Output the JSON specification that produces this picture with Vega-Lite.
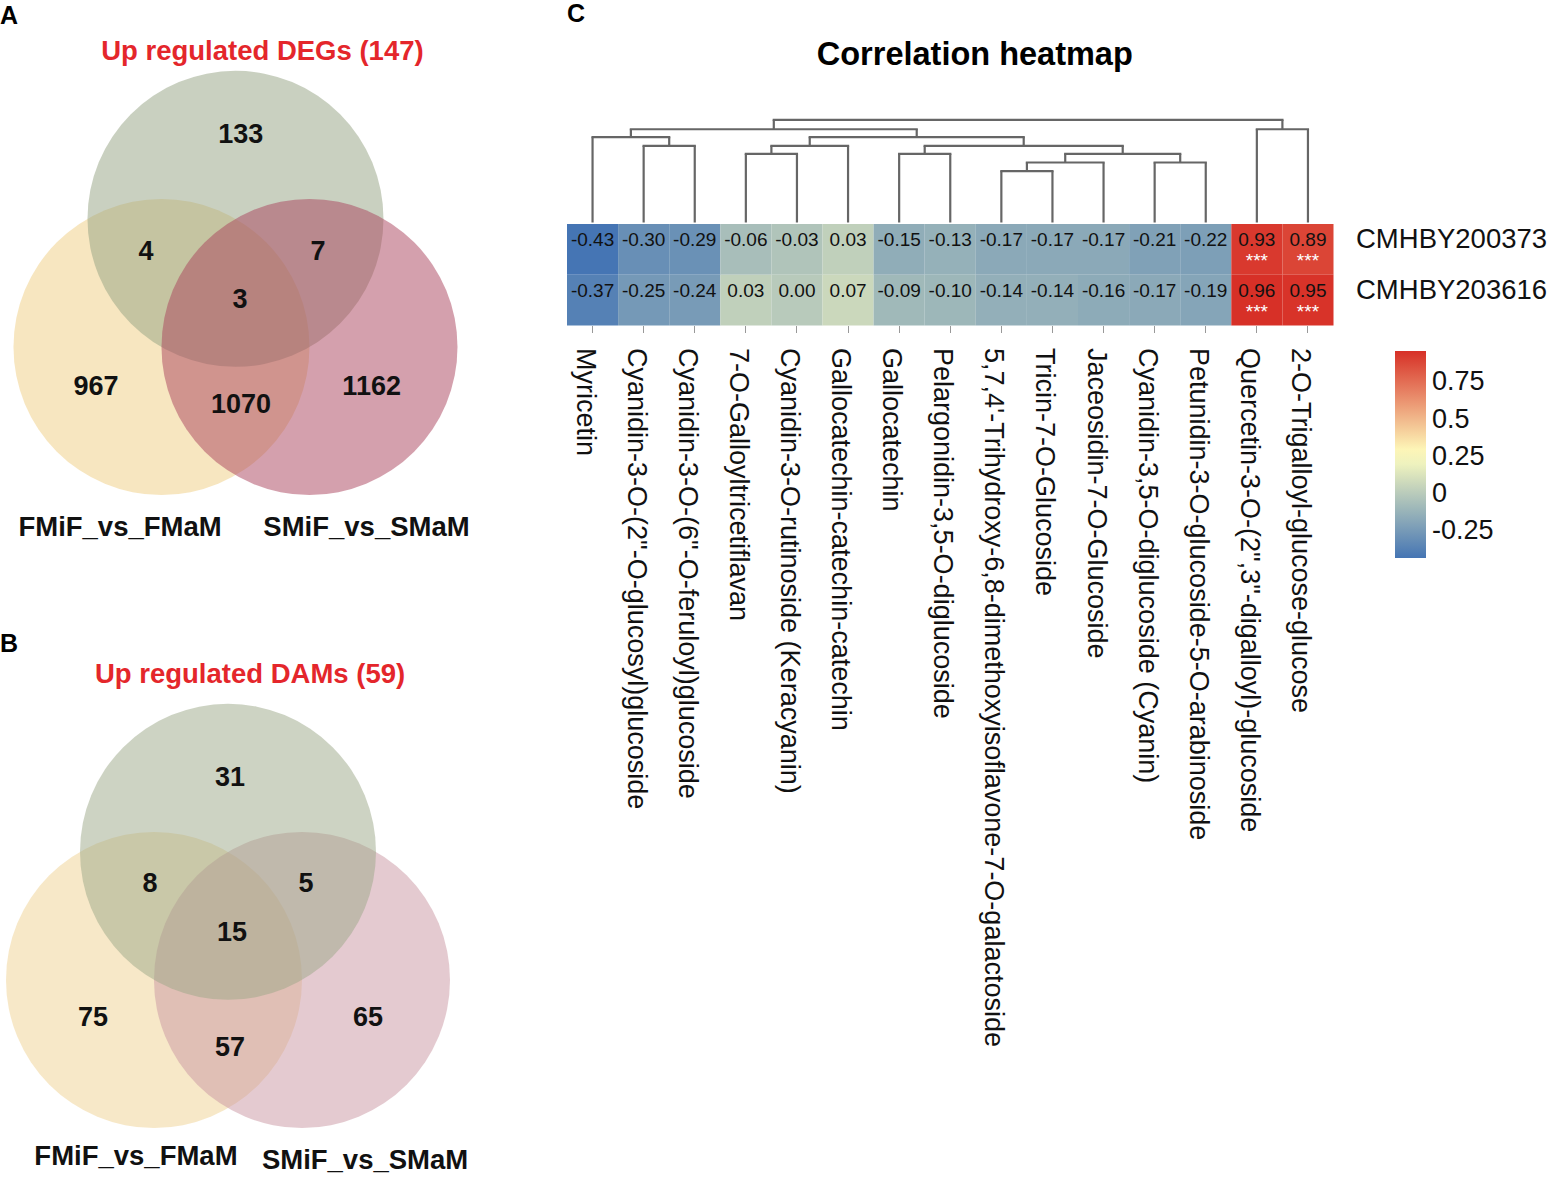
{
  "$schema": "https://vega.github.io/schema/vega-lite/v6.json",
  "padding": 0,
  "background": "white",
  "config": {
    "view": {"stroke": null},
    "font": "Liberation Sans",
    "locale": {"number": {"decimal": ".", "thousands": ",", "grouping": [3], "currency": ["$", ""], "minus": "-"}}
  },
  "spacing": 87,
  "resolve": {"scale": {"x": "independent", "y": "independent", "color": "independent"}, "legend": {"color": "independent"}},
  "hconcat": [
    {
      "spacing": 0,
      "resolve": {"scale": {"x": "independent", "y": "independent", "color": "independent"}},
      "vconcat": [
        {
          "width": 480,
          "height": 620,
          "layer": [
            {
              "data": {"values": [
                {"set": "FMiF_vs_FMaM", "cx": -0.5, "cy": 0, "lx": -0.78, "ly": -1.226},
                {"set": "Up regulated DEGs (147)", "cx": 0, "cy": 0.866, "lx": 0.182, "ly": 1.993},
                {"set": "SMiF_vs_SMaM", "cx": 0.5, "cy": 0, "lx": 0.885, "ly": -1.226}
              ]},
              "layer": [
                {
                  "mark": {"type": "point", "shape": "circle", "filled": true, "opacity": 0.5, "size": 87616, "strokeWidth": 0},
                  "encoding": {
                    "x": {"field": "cx", "type": "quantitative", "scale": {"domain": [-1.591, 1.652], "nice": false, "zero": false}, "axis": null},
                    "y": {"field": "cy", "type": "quantitative", "scale": {"domain": [-1.845, 2.345], "nice": false, "zero": false}, "axis": null},
                    "color": {"field": "set", "type": "nominal", "scale": {"domain": ["Up regulated DEGs (147)", "FMiF_vs_FMaM", "SMiF_vs_SMaM"], "range": ["#93a181", "#efcd81", "#a9415b"]}, "legend": null}
                  }
                },
                {
                  "mark": {"type": "text", "fontSize": 27.5, "fontWeight": "bold", "baseline": "middle"},
                  "encoding": {
                    "x": {"field": "lx", "type": "quantitative"},
                    "y": {"field": "ly", "type": "quantitative"},
                    "text": {"field": "set"},
                    "color": {"condition": {"test": "datum.cy > 0.5", "value": "#e4262b"}, "value": "#111111"}
                  }
                }
              ]
            },
            {
              "data": {"values": [
                {"region": "DEGs only", "count": 133, "x": 0.035, "y": 1.432},
                {"region": "DEGs & FMiF", "count": 4, "x": -0.605, "y": 0.642},
                {"region": "DEGs & SMiF", "count": 7, "x": 0.557, "y": 0.642},
                {"region": "all three", "count": 3, "x": 0.03, "y": 0.318},
                {"region": "FMiF only", "count": 967, "x": -0.943, "y": -0.268},
                {"region": "FMiF & SMiF", "count": 1070, "x": 0.037, "y": -0.392},
                {"region": "SMiF only", "count": 1162, "x": 0.92, "y": -0.27}
              ]},
              "mark": {"type": "text", "fontSize": 27, "fontWeight": "bold", "baseline": "middle", "color": "#111111"},
              "encoding": {
                "x": {"field": "x", "type": "quantitative"},
                "y": {"field": "y", "type": "quantitative"},
                "text": {"field": "count"}
              }
            },
            {
              "data": {"values": [{"panel": "A"}]},
              "mark": {"type": "text", "fontSize": 25, "fontWeight": "bold", "align": "left", "baseline": "middle", "color": "#000000"},
              "encoding": {
                "x": {"datum": -1.591, "type": "quantitative"},
                "y": {"datum": 2.24, "type": "quantitative"},
                "text": {"field": "panel"}
              }
            }
          ]
        },
        {
          "width": 480,
          "height": 561,
          "layer": [
            {
              "data": {"values": [
                {"set": "FMiF_vs_FMaM", "cx": -0.5, "cy": 0, "lx": -0.622, "ly": -1.196},
                {"set": "SMiF_vs_SMaM", "cx": 0.5, "cy": 0, "lx": 0.926, "ly": -1.223},
                {"set": "Up regulated DAMs (59)", "cx": 0, "cy": 0.866, "lx": 0.149, "ly": 2.061}
              ]},
              "layer": [
                {
                  "mark": {"type": "point", "shape": "circle", "filled": true, "opacity": 0.5, "size": 87616, "strokeWidth": 0},
                  "encoding": {
                    "x": {"field": "cx", "type": "quantitative", "scale": {"domain": [-1.5405, 1.7027], "nice": false, "zero": false}, "axis": null},
                    "y": {"field": "cy", "type": "quantitative", "scale": {"domain": [-1.358, 2.432], "nice": false, "zero": false}, "axis": null},
                    "color": {"field": "set", "type": "nominal", "scale": {"domain": ["Up regulated DAMs (59)", "FMiF_vs_FMaM", "SMiF_vs_SMaM"], "range": ["#9ba787", "#efd191", "#c995a1"]}, "legend": null}
                  }
                },
                {
                  "mark": {"type": "text", "fontSize": 27.5, "fontWeight": "bold", "baseline": "middle"},
                  "encoding": {
                    "x": {"field": "lx", "type": "quantitative"},
                    "y": {"field": "ly", "type": "quantitative"},
                    "text": {"field": "set"},
                    "color": {"condition": {"test": "datum.cy > 0.5", "value": "#e4262b"}, "value": "#111111"}
                  }
                }
              ]
            },
            {
              "data": {"values": [
                {"region": "DAMs only", "count": 31, "x": 0.014, "y": 1.365},
                {"region": "DAMs & FMiF", "count": 8, "x": -0.527, "y": 0.649},
                {"region": "DAMs & SMiF", "count": 5, "x": 0.527, "y": 0.649},
                {"region": "all three", "count": 15, "x": 0.027, "y": 0.318},
                {"region": "FMiF only", "count": 75, "x": -0.912, "y": -0.257},
                {"region": "FMiF & SMiF", "count": 57, "x": 0.014, "y": -0.459},
                {"region": "SMiF only", "count": 65, "x": 0.946, "y": -0.257}
              ]},
              "mark": {"type": "text", "fontSize": 27, "fontWeight": "bold", "baseline": "middle", "color": "#111111"},
              "encoding": {
                "x": {"field": "x", "type": "quantitative"},
                "y": {"field": "y", "type": "quantitative"},
                "text": {"field": "count"}
              }
            },
            {
              "data": {"values": [{"panel": "B"}]},
              "mark": {"type": "text", "fontSize": 25, "fontWeight": "bold", "align": "left", "baseline": "middle", "color": "#000000"},
              "encoding": {
                "x": {"datum": -1.5405, "type": "quantitative"},
                "y": {"datum": 2.27, "type": "quantitative"},
                "text": {"field": "panel"}
              }
            }
          ]
        }
      ]
    },
    {
      "spacing": 0,
      "resolve": {"scale": {"x": "independent", "y": "independent"}},
      "vconcat": [
        {
          "width": 766.5,
          "height": 222.5,
          "layer": [
            {
              "data": {"values": [
                {"merge": 1, "lx": 1, "lh": 0, "rx": 2, "rh": 0, "h": 0.747},
                {"merge": 2, "lx": 0, "lh": 0, "rx": 1.5, "rh": 0.747, "h": 0.831},
                {"merge": 3, "lx": 3, "lh": 0, "rx": 4, "rh": 0, "h": 0.669},
                {"merge": 4, "lx": 3.5, "lh": 0.669, "rx": 5, "rh": 0, "h": 0.747},
                {"merge": 5, "lx": 6, "lh": 0, "rx": 7, "rh": 0, "h": 0.669},
                {"merge": 6, "lx": 8, "lh": 0, "rx": 9, "rh": 0, "h": 0.5},
                {"merge": 7, "lx": 8.5, "lh": 0.5, "rx": 10, "rh": 0, "h": 0.584},
                {"merge": 8, "lx": 11, "lh": 0, "rx": 12, "rh": 0, "h": 0.584},
                {"merge": 9, "lx": 9.25, "lh": 0.584, "rx": 11.5, "rh": 0.584, "h": 0.669},
                {"merge": 10, "lx": 6.5, "lh": 0.669, "rx": 10.375, "rh": 0.669, "h": 0.747},
                {"merge": 11, "lx": 4.25, "lh": 0.747, "rx": 8.4375, "rh": 0.747, "h": 0.831},
                {"merge": 12, "lx": 0.75, "lh": 0.831, "rx": 6.34375, "rh": 0.831, "h": 0.908},
                {"merge": 13, "lx": 13, "lh": 0, "rx": 14, "rh": 0, "h": 0.908},
                {"merge": 14, "lx": 3.546875, "lh": 0.908, "rx": 13.5, "rh": 0.908, "h": 1.0}
              ]},
              "layer": [
                {
                  "mark": {"type": "rule", "color": "#666666", "strokeWidth": 2.2, "strokeCap": "square"},
                  "encoding": {
                    "x": {"field": "lx", "type": "quantitative", "scale": {"domain": [-0.5, 14.5], "nice": false, "zero": false}, "axis": null},
                    "x2": {"field": "rx"},
                    "y": {"field": "h", "type": "quantitative", "scale": {"domain": [0, 2.1665], "nice": false, "zero": false}, "axis": null}
                  }
                },
                {
                  "mark": {"type": "rule", "color": "#666666", "strokeWidth": 2.2, "strokeCap": "butt"},
                  "encoding": {
                    "x": {"field": "lx", "type": "quantitative"},
                    "y": {"field": "lh", "type": "quantitative"},
                    "y2": {"field": "h"}
                  }
                },
                {
                  "mark": {"type": "rule", "color": "#666666", "strokeWidth": 2.2, "strokeCap": "butt"},
                  "encoding": {
                    "x": {"field": "rx", "type": "quantitative"},
                    "y": {"field": "rh", "type": "quantitative"},
                    "y2": {"field": "h"}
                  }
                }
              ]
            },
            {
              "data": {"values": [{"label": "Correlation heatmap"}]},
              "mark": {"type": "text", "fontSize": 32.5, "fontWeight": "bold", "baseline": "middle", "color": "#000000"},
              "encoding": {
                "x": {"datum": 7.48, "type": "quantitative"},
                "y": {"datum": 1.631, "type": "quantitative"},
                "text": {"field": "label"}
              }
            },
            {
              "data": {"values": [{"label": "C"}]},
              "mark": {"type": "text", "fontSize": 25, "fontWeight": "bold", "align": "left", "baseline": "middle", "color": "#000000"},
              "encoding": {
                "x": {"datum": -0.5, "type": "quantitative"},
                "y": {"datum": 2.03, "type": "quantitative"},
                "text": {"field": "label"}
              }
            }
          ]
        },
        {
          "width": 766.5,
          "height": 101.5,
          "data": {"values": [
            {"gene": "CMHBY200373", "metabolite": "Myricetin", "r": -0.43, "sig": ""},
            {"gene": "CMHBY200373", "metabolite": "Cyanidin-3-O-(2\"-O-glucosyl)glucoside", "r": -0.30, "sig": ""},
            {"gene": "CMHBY200373", "metabolite": "Cyanidin-3-O-(6\"-O-feruloyl)glucoside", "r": -0.29, "sig": ""},
            {"gene": "CMHBY200373", "metabolite": "7-O-Galloyltricetiflavan", "r": -0.06, "sig": ""},
            {"gene": "CMHBY200373", "metabolite": "Cyanidin-3-O-rutinoside (Keracyanin)", "r": -0.03, "sig": ""},
            {"gene": "CMHBY200373", "metabolite": "Gallocatechin-catechin-catechin", "r": 0.03, "sig": ""},
            {"gene": "CMHBY200373", "metabolite": "Gallocatechin", "r": -0.15, "sig": ""},
            {"gene": "CMHBY200373", "metabolite": "Pelargonidin-3,5-O-diglucoside", "r": -0.13, "sig": ""},
            {"gene": "CMHBY200373", "metabolite": "5,7,4'-Trihydroxy-6,8-dimethoxyisoflavone-7-O-galactoside", "r": -0.17, "sig": ""},
            {"gene": "CMHBY200373", "metabolite": "Tricin-7-O-Glucoside", "r": -0.17, "sig": ""},
            {"gene": "CMHBY200373", "metabolite": "Jaceosidin-7-O-Glucoside", "r": -0.17, "sig": ""},
            {"gene": "CMHBY200373", "metabolite": "Cyanidin-3,5-O-diglucoside (Cyanin)", "r": -0.21, "sig": ""},
            {"gene": "CMHBY200373", "metabolite": "Petunidin-3-O-glucoside-5-O-arabinoside", "r": -0.22, "sig": ""},
            {"gene": "CMHBY200373", "metabolite": "Quercetin-3-O-(2\",3\"-digalloyl)-glucoside", "r": 0.93, "sig": "***"},
            {"gene": "CMHBY200373", "metabolite": "2-O-Trigalloyl-glucose-glucose", "r": 0.89, "sig": "***"},
            {"gene": "CMHBY203616", "metabolite": "Myricetin", "r": -0.37, "sig": ""},
            {"gene": "CMHBY203616", "metabolite": "Cyanidin-3-O-(2\"-O-glucosyl)glucoside", "r": -0.25, "sig": ""},
            {"gene": "CMHBY203616", "metabolite": "Cyanidin-3-O-(6\"-O-feruloyl)glucoside", "r": -0.24, "sig": ""},
            {"gene": "CMHBY203616", "metabolite": "7-O-Galloyltricetiflavan", "r": 0.03, "sig": ""},
            {"gene": "CMHBY203616", "metabolite": "Cyanidin-3-O-rutinoside (Keracyanin)", "r": 0.00, "sig": ""},
            {"gene": "CMHBY203616", "metabolite": "Gallocatechin-catechin-catechin", "r": 0.07, "sig": ""},
            {"gene": "CMHBY203616", "metabolite": "Gallocatechin", "r": -0.09, "sig": ""},
            {"gene": "CMHBY203616", "metabolite": "Pelargonidin-3,5-O-diglucoside", "r": -0.10, "sig": ""},
            {"gene": "CMHBY203616", "metabolite": "5,7,4'-Trihydroxy-6,8-dimethoxyisoflavone-7-O-galactoside", "r": -0.14, "sig": ""},
            {"gene": "CMHBY203616", "metabolite": "Tricin-7-O-Glucoside", "r": -0.14, "sig": ""},
            {"gene": "CMHBY203616", "metabolite": "Jaceosidin-7-O-Glucoside", "r": -0.16, "sig": ""},
            {"gene": "CMHBY203616", "metabolite": "Cyanidin-3,5-O-diglucoside (Cyanin)", "r": -0.17, "sig": ""},
            {"gene": "CMHBY203616", "metabolite": "Petunidin-3-O-glucoside-5-O-arabinoside", "r": -0.19, "sig": ""},
            {"gene": "CMHBY203616", "metabolite": "Quercetin-3-O-(2\",3\"-digalloyl)-glucoside", "r": 0.96, "sig": "***"},
            {"gene": "CMHBY203616", "metabolite": "2-O-Trigalloyl-glucose-glucose", "r": 0.95, "sig": "***"}
          ]},
          "encoding": {
            "x": {
              "field": "metabolite", "type": "nominal", "sort": null,
              "scale": {"paddingInner": 0, "paddingOuter": 0},
              "axis": {"title": null, "orient": "bottom", "labelAngle": 90, "labelAlign": "left", "labelBaseline": "middle", "labelFontSize": 27, "labelLimit": 2000, "labelPadding": 15, "labelOffset": -8, "tickSize": 7, "tickColor": "#999999", "domain": false, "labelColor": "#111111", "labelOverlap": false}
            },
            "y": {
              "field": "gene", "type": "nominal", "sort": null,
              "scale": {"paddingInner": 0, "paddingOuter": 0},
              "axis": {"title": null, "orient": "right", "labelFontSize": 27.5, "labelPadding": 22, "ticks": false, "domain": false, "labelOffset": -9, "labelColor": "#111111", "labelLimit": 2000}
            }
          },
          "layer": [
            {
              "mark": {"type": "rect"},
              "encoding": {
                "color": {
                  "field": "r", "type": "quantitative",
                  "scale": {"domain": [-0.43, 0.265, 0.96], "range": ["#4575b4", "#ffffbf", "#d73027"], "interpolate": "rgb"},
                  "legend": {"orient": "none", "legendX": 828, "legendY": 351, "title": null, "direction": "vertical", "gradientLength": 207, "gradientThickness": 31, "gradientStrokeWidth": 0, "values": [-0.25, 0, 0.25, 0.5, 0.75], "labelExpr": "'' + datum.value", "labelFontSize": 27, "labelOffset": 6, "labelColor": "#111111", "padding": 0}
                }
              }
            },
            {
              "mark": {"type": "text", "fontSize": 19, "dy": -9, "color": "#111111"},
              "encoding": {"text": {"field": "r", "type": "quantitative", "format": ".2f"}}
            },
            {
              "mark": {"type": "text", "fontSize": 19, "dy": 12, "color": "#ffffff"},
              "encoding": {"text": {"field": "sig", "type": "nominal"}}
            }
          ]
        }
      ]
    }
  ]
}
